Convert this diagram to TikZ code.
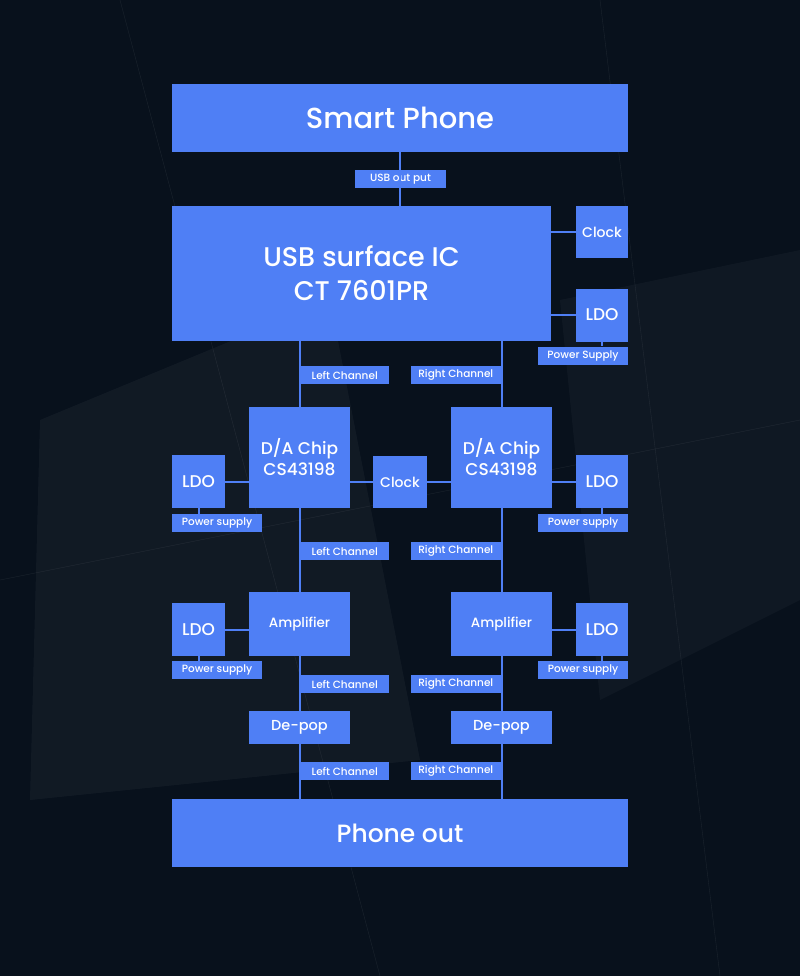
\documentclass[tikz,border=0pt]{standalone}
\usepackage{fontspec}
\setmainfont{Poppins Medium}
\definecolor{bx}{HTML}{4F7FF5}
\definecolor{bg}{HTML}{08111C}
\begin{document}
\begin{tikzpicture}[x=1pt,y=-1pt,
  box/.style={fill=bx,text=white,inner sep=0pt,align=center},
  lab/.style={box,font=\fontsize{10.5}{12}\selectfont,minimum height=18pt},
  ln/.style={draw=bx,line width=2pt}]
\fill[bg] (0,0) rectangle (800,976);
\useasboundingbox (0,0) rectangle (800,976);
\fill[white,opacity=0.04] (40,420) -- (330,300) -- (420,760) -- (30,800) -- cycle;
\fill[white,opacity=0.03] (560,300) -- (800,250) -- (800,600) -- (600,700) -- cycle;
\draw[white,opacity=0.08] (0,580) -- (800,420) (120,0) -- (380,976) (600,0) -- (720,976);
% boxes
\node[box,minimum width=456,minimum height=68,font=\fontsize{29}{34}\selectfont] (sp) at (400,118) {Smart Phone};
\node[box,minimum width=379,minimum height=135,font=\fontsize{27}{34}\selectfont] (usb) at (361.5,273.5) {USB surface IC\\CT 7601PR};
\node[box,minimum width=52,minimum height=52,font=\fontsize{14}{16}\selectfont] (clk1) at (602,232) {Clock};
\node[box,minimum width=52,minimum height=53,font=\fontsize{17}{20}\selectfont] (ldo1) at (602,315) {LDO};
\node[lab,minimum width=90] (ps1) at (583,355.5) {Power Supply};
\node[lab,minimum width=91] (usbl) at (400.5,179) {USB out put};
\node[box,minimum width=101,minimum height=101,font=\fontsize{17}{21}\selectfont] (dal) at (299.5,457.5) {D/A Chip\\CS43198};
\node[box,minimum width=101,minimum height=101,font=\fontsize{17}{21}\selectfont] (dar) at (501.5,457.5) {D/A Chip\\CS43198};
\node[box,minimum width=54,minimum height=52,font=\fontsize{14}{16}\selectfont] (clk2) at (400,482) {Clock};
\node[box,minimum width=53,minimum height=53,font=\fontsize{17}{20}\selectfont] (ldo2) at (198.5,481.5) {LDO};
\node[box,minimum width=52,minimum height=53,font=\fontsize{17}{20}\selectfont] (ldo3) at (602,481.5) {LDO};
\node[lab,minimum width=90] (ps2) at (217,523) {Power supply};
\node[lab,minimum width=90] (ps3) at (583,523) {Power supply};
\node[box,minimum width=101,minimum height=64,font=\fontsize{13.5}{16}\selectfont] (aml) at (299.5,624) {Amplifier};
\node[box,minimum width=101,minimum height=64,font=\fontsize{13.5}{16}\selectfont] (amr) at (501.5,624) {Amplifier};
\node[box,minimum width=53,minimum height=53,font=\fontsize{17}{20}\selectfont] (ldo4) at (198.5,629.5) {LDO};
\node[box,minimum width=52,minimum height=53,font=\fontsize{17}{20}\selectfont] (ldo5) at (602,629.5) {LDO};
\node[lab,minimum width=90] (ps4) at (217,670) {Power supply};
\node[lab,minimum width=90] (ps5) at (583,670) {Power supply};
\node[box,minimum width=101,minimum height=33,font=\fontsize{14.5}{16}\selectfont] (dpl) at (299.5,727.5) {De-pop};
\node[box,minimum width=101,minimum height=33,font=\fontsize{14.5}{16}\selectfont] (dpr) at (501.5,727.5) {De-pop};
\node[box,minimum width=456,minimum height=68,font=\fontsize{25}{30}\selectfont] (po) at (400,833) {Phone out};
% connectors
\draw[ln] (sp) -- (usb.north -| sp);
\draw[ln] (usb.east |- clk1) -- (clk1);
\draw[ln] (usb.east |- ldo1) -- (ldo1);
\draw[ln] (ldo1) -- (ps1.north -| ldo1);
\draw[ln] (dal.north) -- (dal.north |- usb.south);
\draw[ln] (dar.north) -- (dar.north |- usb.south);
\draw[ln] (dal.east |- clk2) -- (clk2) -- (dar.west |- clk2);
\draw[ln] (ldo2) -- (ldo2 -| dal.west);
\draw[ln] (ldo3) -- (ldo3 -| dar.east);
\draw[ln] (ldo4) -- (ldo4 -| aml.west);
\draw[ln] (ldo5) -- (ldo5 -| amr.east);
\draw[ln] (ldo2.south) -- (ldo2.south |- ps2.north);
\draw[ln] (ldo3.south) -- (ldo3.south |- ps3.north);
\draw[ln] (ldo4.south) -- (ldo4.south |- ps4.north);
\draw[ln] (ldo5.south) -- (ldo5.south |- ps5.north);
\draw[ln] (dal) -- (aml) -- (dpl) -- (dpl.south |- po.north);
\draw[ln] (dar) -- (amr) -- (dpr) -- (dpr.south |- po.north);
% channel labels
\node[lab,minimum width=89,anchor=west] (l1) at (300,375) {Left Channel};
\node[lab,minimum width=90,anchor=east] (r1) at (501,375) {Right Channel};
\node[lab,minimum width=89,anchor=west] (l2) at (300,551) {Left Channel};
\node[lab,minimum width=90,anchor=east] (r2) at (501,551) {Right Channel};
\node[lab,minimum width=89,anchor=west] (l3) at (300,684) {Left Channel};
\node[lab,minimum width=90,anchor=east] (r3) at (501,684) {Right Channel};
\node[lab,minimum width=89,anchor=west] (l4) at (300,771) {Left Channel};
\node[lab,minimum width=90,anchor=east] (r4) at (501,771) {Right Channel};
\end{tikzpicture}
\end{document}
